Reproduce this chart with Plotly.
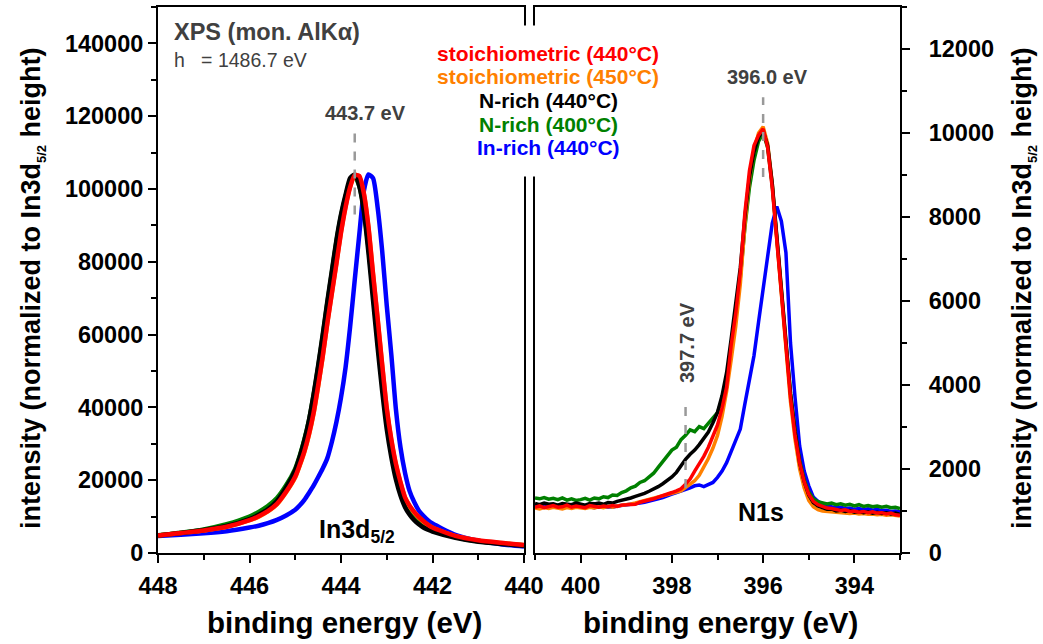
import plotly.graph_objects as go

# ---------------- In3d5/2 region (left panel) ----------------
in3d_be = [448.0, 447.5, 447.0, 446.5, 446.0, 445.8, 445.6, 445.4, 445.2,
           445.0, 444.9, 444.8, 444.7, 444.6, 444.5, 444.4, 444.3, 444.2, 444.1,
           444.0, 443.9, 443.8, 443.7, 443.6, 443.5, 443.4, 443.3, 443.2, 443.1,
           443.0, 442.9, 442.8, 442.7, 442.6, 442.5, 442.4, 442.3, 442.2, 442.1,
           442.0, 441.5, 441.0, 440.5, 440.0]

in3d_stoich_440 = [4800, 5500, 6200, 7200, 9000, 10100, 11500, 13500, 16800,
                   21000, 24300, 28000, 32700, 38500, 46000, 54000, 63000, 71300, 79500,
                   88000, 95000, 100500, 103800, 103600, 98800, 89600, 76800, 64500, 51800,
                   39800, 31200, 24500, 19500, 15300, 13000, 11300, 9900, 8800, 7800,
                   7000, 4700, 3500, 2800, 2200]
in3d_stoich_450 = [4800, 5500, 6200, 7200, 9000, 10000, 11400, 13400, 16700,
                   20800, 24100, 27800, 32500, 38300, 45800, 54000, 63200, 71500, 79800,
                   88300, 95300, 100700, 103900, 103400, 98500, 89300, 76500, 64200, 51500,
                   39500, 30900, 24200, 19200, 15100, 12800, 11100, 9700, 8600, 7700,
                   6900, 4600, 3400, 2700, 2100]
in3d_nrich_440 = [4800, 5500, 6300, 7400, 9300, 10500, 12000, 14300, 18000,
                  22800, 26500, 31000, 36500, 43500, 51500, 60000, 69000, 77500, 86000,
                  93000, 98500, 103000, 104000, 100800, 93800, 82500, 69500, 56500, 44500,
                  34000, 26300, 20200, 15800, 12600, 10500, 9000, 7900, 7000, 6400,
                  5900, 4200, 3100, 2500, 2000]
in3d_nrich_400 = [4900, 5600, 6500, 7900, 10000, 11300, 12900, 15100, 18600,
                  23200, 26800, 31200, 36500, 43300, 51000, 59500, 68500, 77000, 85500,
                  92500, 98000, 102300, 103500, 100800, 94500, 84000, 71500, 58500, 46500,
                  36000, 28000, 21800, 17000, 13700, 11400, 9800, 8600, 7600, 6900,
                  6400, 4400, 3200, 2600, 2100]
in3d_inrich_440 = [4700, 5000, 5400, 6000, 7000, 7500, 8200, 9100, 10300,
                   11900, 13100, 14600, 16500, 18500, 20800, 23200, 26000, 30500, 36000,
                   42700, 51000, 62200, 75000, 87500, 99500, 104000, 103000, 95000, 83000,
                   68000, 54500, 39500, 29000, 22000, 17000, 14000, 11700, 10200, 9000,
                   8100, 5000, 3400, 2400, 1800]

# ---------------- N1s region (right panel) ----------------
n1s_be = [401.0, 400.9, 400.8, 400.7, 400.6, 400.5, 400.4, 400.3, 400.2, 400.1,
          400.0, 399.9, 399.8, 399.7, 399.6, 399.5, 399.4, 399.3, 399.2, 399.1,
          399.0, 398.9, 398.8, 398.7, 398.6, 398.5, 398.4, 398.3, 398.2, 398.1,
          398.0, 397.9, 397.8, 397.7, 397.6, 397.5, 397.4, 397.3, 397.2, 397.1,
          397.0, 396.9, 396.8, 396.7, 396.6, 396.5, 396.4, 396.3, 396.2, 396.1,
          396.0, 395.9, 395.8, 395.7, 395.6, 395.5, 395.4, 395.3, 395.2, 395.1,
          395.0, 394.9, 394.8, 394.7, 394.6, 394.5, 394.4, 394.3, 394.2, 394.1,
          394.0, 393.9, 393.8, 393.7, 393.6, 393.5, 393.4, 393.3, 393.2, 393.1,
          393.0]

n1s_stoich_440 = [1090, 1120, 1080, 1110, 1130, 1090, 1100, 1140, 1090, 1120,
                  1110, 1080, 1130, 1100, 1090, 1120, 1100, 1130, 1110, 1140,
                  1150, 1170, 1160, 1210, 1230, 1270, 1290, 1330, 1360, 1410,
                  1440, 1480, 1530, 1640, 1760, 1950, 2120, 2300, 2520, 2800,
                  3050, 3450, 3950, 4950, 5700, 6700, 8100, 9100, 9700, 9950,
                  10100, 9650, 8700, 7450, 6250, 4950, 3700, 2800, 2150, 1700,
                  1400, 1230, 1150, 1110, 1070, 1060, 1040, 1010, 1030, 990,
                  1000, 970, 990, 960, 980, 950, 960, 930, 950, 910,
                  900]
n1s_stoich_450 = [1070, 1050, 1080, 1060, 1090, 1070, 1050, 1080, 1060, 1090,
                  1080, 1060, 1090, 1070, 1100, 1080, 1110, 1090, 1120, 1130,
                  1160, 1170, 1190, 1220, 1240, 1270, 1300, 1320, 1350, 1390,
                  1420, 1450, 1480, 1560, 1650, 1720, 1850, 2050, 2250, 2500,
                  2800, 3250, 3850, 4600, 5400, 6400, 7800, 8900, 9600, 10000,
                  10150, 9750, 8800, 7450, 6150, 4850, 3600, 2700, 2000, 1550,
                  1250, 1100, 1030, 1000, 990, 970, 980, 950, 960, 940,
                  950, 930, 940, 920, 930, 910, 920, 900, 910, 890,
                  880]
n1s_nrich_440 = [1180, 1150, 1190, 1160, 1170, 1140, 1180, 1160, 1150, 1190,
                 1160, 1140, 1180, 1170, 1190, 1160, 1200, 1190, 1230, 1250,
                 1280, 1310, 1350, 1380, 1420, 1470, 1520, 1580, 1650, 1720,
                 1810, 1920, 2080, 2230, 2350, 2450, 2580, 2720, 2880, 3100,
                 3350, 3750, 4300, 5100, 5900, 6800, 8000, 8950, 9550, 9900,
                 10050, 9700, 8800, 7500, 6300, 5050, 3800, 2900, 2150, 1700,
                 1380, 1200, 1120, 1080, 1040, 1050, 1000, 1020, 990, 1010,
                 970, 990, 960, 980, 950, 970, 940, 960, 930, 950,
                 920]
n1s_nrich_400 = [1310, 1290, 1320, 1280, 1300, 1270, 1310, 1260, 1290, 1250,
                 1270, 1300, 1260, 1310, 1290, 1340, 1320, 1380, 1370, 1440,
                 1480, 1550, 1590, 1680, 1720, 1820, 1900, 2040, 2180, 2290,
                 2450, 2520, 2700, 2800, 2930, 2890, 3010, 2960, 3080, 3200,
                 3340, 3650, 4150, 4850, 5650, 6550, 7750, 8700, 9350, 9800,
                 10000, 9650, 8750, 7450, 6200, 5000, 3800, 2900, 2200, 1750,
                 1450, 1290, 1220, 1190, 1170, 1190, 1150, 1170, 1140, 1160,
                 1120, 1150, 1110, 1130, 1100, 1120, 1090, 1110, 1080, 1090,
                 1060]
n1s_inrich_440 = [1140, 1120, 1150, 1110, 1130, 1100, 1120, 1090, 1110, 1130,
                  1120, 1090, 1100, 1080, 1110, 1090, 1100, 1090, 1120, 1130,
                  1150, 1160, 1180, 1190, 1210, 1230, 1260, 1290, 1320, 1370,
                  1400, 1440, 1470, 1510, 1550, 1600, 1620, 1580, 1640, 1680,
                  1800, 1950, 2150, 2400, 2700, 2950, 3550, 4100, 4700, 5500,
                  6300, 7200, 7850, 8250, 7900, 7150, 5000, 3700, 2550, 1950,
                  1600, 1330, 1230, 1160, 1120, 1100, 1080, 1090, 1060, 1070,
                  1040, 1060, 1030, 1050, 1020, 1040, 1010, 1020, 990, 1000,
                  980]

series_labels = ["stoichiometric (440°C)", "stoichiometric (450°C)",
                 "N-rich (440°C)", "N-rich (400°C)", "In-rich (440°C)"]
series_colors = ["#ff0000", "#ff8000", "#000000", "#008000", "#0000ff"]

peak_in3d = 443.7
peak_n1s = 396.0
shoulder_n1s = 397.7

W, H = 1043, 644
FONT = "Liberation Sans, Arial, sans-serif"
GREY = "#404040"


def px(x):
    return x / W


def py(y):
    return 1 - y / H


fig = go.Figure()

in3d_sets = [in3d_stoich_440, in3d_stoich_450, in3d_nrich_440, in3d_nrich_400, in3d_inrich_440]
n1s_sets = [n1s_stoich_440, n1s_stoich_450, n1s_nrich_440, n1s_nrich_400, n1s_inrich_440]

# drawing order: blue at the back, red on top
order = [4, 3, 1, 2, 0]
for i in order:
    fig.add_trace(go.Scatter(x=in3d_be, y=in3d_sets[i], mode="lines", name=series_labels[i],
                             line=dict(color=series_colors[i], width=4.5, shape="spline", smoothing=0.6),
                             xaxis="x", yaxis="y", showlegend=False))
for i in order:
    fig.add_trace(go.Scatter(x=n1s_be, y=n1s_sets[i], mode="lines", name=series_labels[i],
                             line=dict(color=series_colors[i], width=3.5),
                             xaxis="x2", yaxis="y2", showlegend=False))

tickfont = dict(family=FONT, size=23.5, color="black", weight="bold")
minor_tick = dict(ticklen=5, tickwidth=2, tickcolor="black", ticks="outside", showgrid=False)
common = dict(showline=True, linecolor="black", linewidth=2, mirror=True,
              ticks="outside", ticklen=8, tickwidth=2, tickcolor="black",
              showgrid=False, zeroline=False, tickfont=tickfont, automargin=False)
ydom = [1 - 553 / H, 1 - 7 / H]

fig.update_layout(
    template="none",
    width=W, height=H,
    margin=dict(l=0, r=0, t=0, b=0, autoexpand=False),
    paper_bgcolor="white", plot_bgcolor="white",
    font=dict(family=FONT),
    xaxis=dict(domain=[px(158), px(524)], range=[448, 440], dtick=2, tick0=440,
               anchor="y", ticklabelstandoff=3, minor=dict(dtick=1, **minor_tick), **common),
    yaxis=dict(domain=ydom, range=[0, 150000], dtick=20000, tick0=0, tickformat="d",
               anchor="x", minor=dict(dtick=10000, **minor_tick), **common),
    xaxis2=dict(domain=[px(535), px(900)], range=[401, 393], dtick=2, tick0=400,
                anchor="y2", ticklabelstandoff=3, minor=dict(dtick=1, **minor_tick), **common),
    yaxis2=dict(domain=ydom, range=[0, 13000], dtick=2000, tick0=0, tickformat="d",
                anchor="x2", side="right", ticklabelstandoff=14,
                minor=dict(dtick=1000, **minor_tick), **common),
)

# dashed markers for the peak positions
dash = dict(color="#999999", width=2.5, dash="dash")
fig.add_shape(type="line", xref="x", yref="y", x0=peak_in3d, x1=peak_in3d, y0=93000, y1=117000, line=dash)
fig.add_shape(type="line", xref="x2", yref="y2", x0=peak_n1s, x1=peak_n1s, y0=8950, y1=10850, line=dash)
fig.add_shape(type="line", xref="x2", yref="y2", x0=shoulder_n1s, x1=shoulder_n1s, y0=1550, y1=3550, line=dash)

ann = []
# white block that interrupts the frames behind the sample list
ann.append(dict(x=px(529.5), y=py(101), xref="paper", yref="paper", text="\u00a0", showarrow=False,
                width=40, height=148, bgcolor="white", xanchor="center", yanchor="middle"))
for lbl, col, yy in zip(series_labels, series_colors, [53, 77, 101, 124, 147]):
    ann.append(dict(x=px(548), y=py(yy), xref="paper", yref="paper", text=f"<b>{lbl}</b>",
                    showarrow=False, font=dict(size=21, color=col, family=FONT),
                    xanchor="center", yanchor="middle"))

ann.append(dict(x=px(172), y=py(32), xref="paper", yref="paper", text="<b>XPS (mon. AlKα)</b>",
                showarrow=False, font=dict(size=23.5, color=GREY, family=FONT), xanchor="left", yanchor="middle"))
ann.append(dict(x=px(172), y=py(60), xref="paper", yref="paper",
                text="h\u00a0\u00a0\u00a0= 1486.7 eV",
                showarrow=False, font=dict(size=19.5, color=GREY, family=FONT), xanchor="left", yanchor="middle"))

ann.append(dict(x=px(365), y=py(113), xref="paper", yref="paper", text=f"<b>{peak_in3d:.1f} eV</b>",
                showarrow=False, font=dict(size=20, color=GREY, family=FONT), xanchor="center", yanchor="middle"))
ann.append(dict(x=px(767), y=py(77), xref="paper", yref="paper", text=f"<b>{peak_n1s:.1f} eV</b>",
                showarrow=False, font=dict(size=20, color=GREY, family=FONT), xanchor="center", yanchor="middle"))
ann.append(dict(x=px(687), y=py(343), xref="paper", yref="paper", text=f"<b>{shoulder_n1s:.1f} eV</b>",
                showarrow=False, textangle=-90, font=dict(size=20, color=GREY, family=FONT),
                xanchor="center", yanchor="middle"))

ann.append(dict(x=px(317), y=py(531), xref="paper", yref="paper", text="<b>In3d<sub>5/2</sub></b>",
                showarrow=False, font=dict(size=25, color="black", family=FONT), xanchor="left", yanchor="middle"))
ann.append(dict(x=px(761), y=py(512), xref="paper", yref="paper", text="<b>N1s</b>",
                showarrow=False, font=dict(size=25, color="black", family=FONT), xanchor="center", yanchor="middle"))

xtitle = "<b>binding energy (eV)</b>"
ann.append(dict(x=px(344), y=py(622), xref="paper", yref="paper", text=xtitle, showarrow=False,
                font=dict(size=29.5, color="black", family=FONT), xanchor="center", yanchor="middle"))
ann.append(dict(x=px(720), y=py(622), xref="paper", yref="paper", text=xtitle, showarrow=False,
                font=dict(size=29.5, color="black", family=FONT), xanchor="center", yanchor="middle"))

ytitle = "<b>intensity (normalized to In3d<sub><span style='font-size:13px'>5/2</span></sub> height)</b>"
ann.append(dict(x=px(32), y=py(288), xref="paper", yref="paper", text=ytitle, showarrow=False, textangle=-90,
                font=dict(size=27, color="black", family=FONT), xanchor="center", yanchor="middle"))
ann.append(dict(x=px(1023), y=py(288), xref="paper", yref="paper", text=ytitle, showarrow=False, textangle=-90,
                font=dict(size=27, color="black", family=FONT), xanchor="center", yanchor="middle"))

fig.update_layout(annotations=ann)

fig.write_html("out.html")
